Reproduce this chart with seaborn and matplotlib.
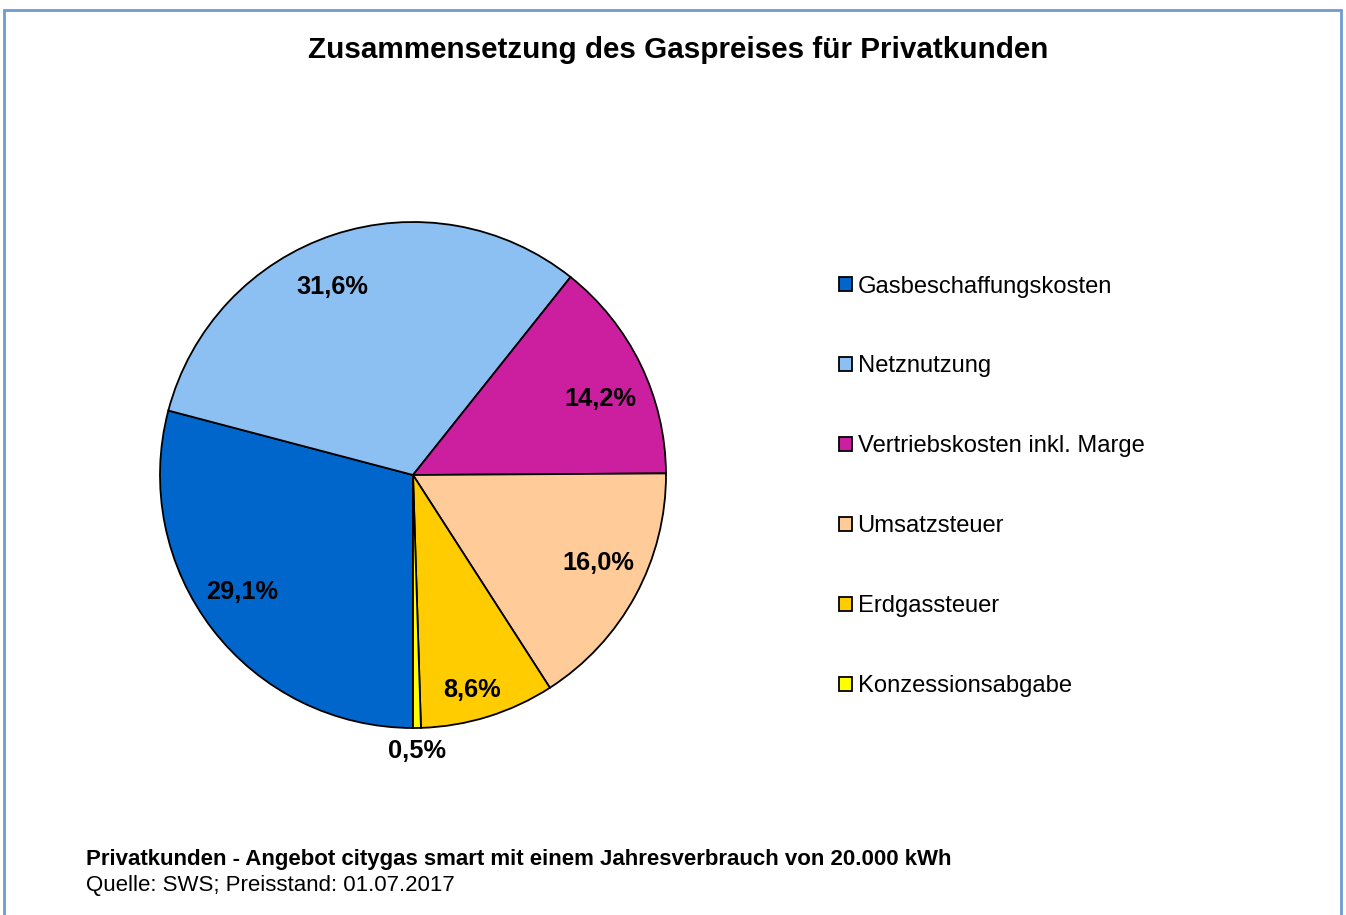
import numpy as np
import matplotlib
matplotlib.use("Agg")
import matplotlib.pyplot as plt
import seaborn as sns
from matplotlib.patches import Rectangle

# Data
categories = ["Gasbeschaffungskosten", "Netznutzung", "Vertriebskosten inkl. Marge",
              "Umsatzsteuer", "Erdgassteuer", "Konzessionsabgabe"]
shares = [29.1, 31.6, 14.2, 16.0, 8.6, 0.5]
colors = ["#0066CC", "#8CBFF2", "#CC1FA0", "#FFCC99", "#FFCC00", "#FFFF00"]

title = "Zusammensetzung des Gaspreises für Privatkunden"
note_bold = "Privatkunden - Angebot citygas smart mit einem Jahresverbrauch von 20.000 kWh"
note_src = "Quelle: SWS; Preisstand: 01.07.2017"

sns.set_style("white")
plt.rcParams['font.family'] = ['Liberation Sans', 'DejaVu Sans']
plt.rcParams['text.color'] = 'black'

W, H = 1346, 915
fig = plt.figure(figsize=(W / 100, H / 100), dpi=100)

# pie axes: center (413, 475), radius 253 px
cx, cy, r = 413, 475, 253
ax = fig.add_axes([(cx - r) / W, (H - cy - r) / H, 2 * r / W, 2 * r / H])
wedges, _ = ax.pie(shares, colors=colors, startangle=270, counterclock=False,
                   wedgeprops=dict(edgecolor="black", linewidth=1.3))
ax.set_xlim(-1, 1)
ax.set_ylim(-1, 1)
ax.set_aspect("equal")
ax.axis("off")

# percentage labels (distance from centre, angle nudge in degrees)
dists = [0.82, 0.81, 0.80, 0.81, 0.88, 1.09]
nudge = [-3.2, 4.8, -3.8, 3.0, -1.8, 0.0]
for w, val, d, dn in zip(wedges, shares, dists, nudge):
    ang = np.deg2rad((w.theta1 + w.theta2) / 2 + dn)
    ax.text(d * np.cos(ang), d * np.sin(ang), f"{val:.1f}%".replace(".", ","),
            ha="center", va="center", fontsize=18.3, fontweight="bold")

# legend
handles = [Rectangle((0, 0), 1, 1, facecolor=c, edgecolor="black", linewidth=1.3) for c in colors]
fig.legend(handles, categories, loc="upper left", bbox_to_anchor=(829 / W, 1 - 266 / H),
           frameon=False, fontsize=17.1, handlelength=0.55, handleheight=0.55,
           handletextpad=0.25, labelspacing=2.44, borderaxespad=0)

fig.text(678 / W, 1 - 50 / H, title, ha="center", va="center", fontsize=21.3, fontweight="bold")
fig.text(86 / W, 1 - 860 / H, note_bold, ha="left", va="center", fontsize=16, fontweight="bold")
fig.text(86 / W, 1 - 886 / H, note_src, ha="left", va="center", fontsize=16)

# frame
fig.patches.append(Rectangle((4 / W, -0.05), 1337 / W, 1 - 10 / H + 0.05,
                             transform=fig.transFigure, fill=False,
                             edgecolor="#6F9AD0", linewidth=2))

fig.savefig("out.png", dpi=100)
